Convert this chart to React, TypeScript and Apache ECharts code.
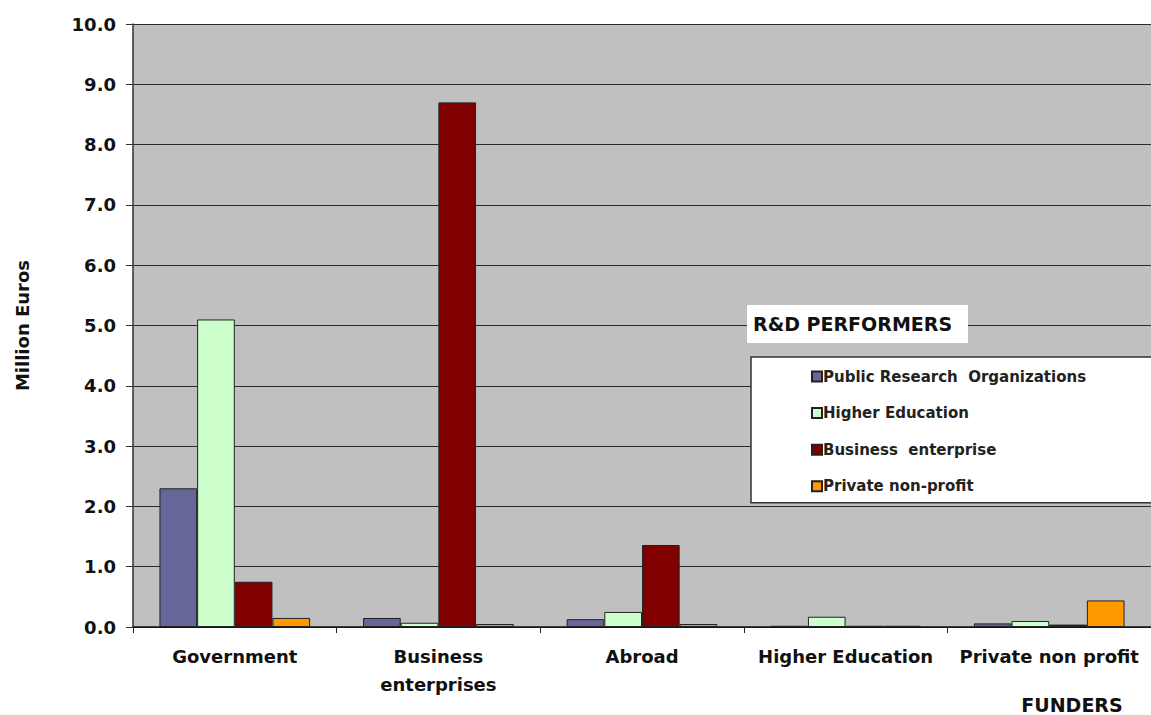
import React, { useEffect, useRef } from "react";
import * as echarts from "echarts";

const categories = ["Government", "Business\nenterprises", "Abroad", "Higher Education", "Private non profit"];
const seriesNames = ["Public Research  Organizations", "Higher Education", "Business  enterprise", "Private non-profit"];
const publicResearch = [2.3, 0.15, 0.13, 0.02, 0.06];
const higherEducation = [5.1, 0.07, 0.25, 0.17, 0.1];
const businessEnterprise = [0.75, 8.7, 1.36, 0.02, 0.04];
const privateNonProfit = [0.15, 0.05, 0.05, 0.02, 0.44];
const colors = ["#666699", "#ccffcc", "#800000", "#ff9900"];

const FONT = "'DejaVu Sans', Arial, sans-serif";

export default function App() {
  const ref = useRef<HTMLDivElement>(null);
  useEffect(() => {
    if (!ref.current) return;
    const chart = echarts.init(ref.current, null, { renderer: "svg" });
    const dataSets = [publicResearch, higherEducation, businessEnterprise, privateNonProfit];
    chart.setOption({
      animation: false,
      backgroundColor: "#ffffff",
      grid: {
        left: 133,
        right: -3,
        top: 24,
        bottom: 88,
        show: true,
        backgroundColor: "#c0c0c0",
        borderWidth: 0,
      },
      legend: {
        orient: "vertical",
        left: 751,
        top: 357,
        padding: [12, 200, 9, 60],
        itemGap: 21.6,
        itemWidth: 10,
        itemHeight: 10,
        icon: "rect",
        backgroundColor: "#ffffff",
        borderColor: "#333333",
        borderWidth: 1.5,
        textStyle: { fontFamily: FONT, fontWeight: "bold", fontSize: 15, color: "#222222", padding: [0, 0, 0, -4] },
        data: seriesNames,
      },
      xAxis: {
        type: "category",
        data: categories,
        axisLine: { lineStyle: { color: "#111111", width: 1.5 } },
        axisTick: { show: true, length: 6, lineStyle: { color: "#222222" } },
        axisLabel: {
          interval: 0,
          hideOverlap: false,
          fontFamily: FONT,
          fontWeight: "bold",
          fontSize: 18,
          color: "#111111",
          margin: 15,
          lineHeight: 28,
        },
      },
      yAxis: {
        type: "value",
        min: 0,
        max: 10,
        interval: 1,
        name: "Million Euros",
        nameLocation: "middle",
        nameGap: 102,
        nameRotate: 90,
        nameTextStyle: { fontFamily: FONT, fontWeight: "bold", fontSize: 18, color: "#111111" },
        axisLine: { show: true, lineStyle: { color: "#333333", width: 1.5 } },
        axisTick: { show: true, length: 7, lineStyle: { color: "#333333" } },
        axisLabel: {
          fontFamily: FONT,
          fontWeight: "bold",
          fontSize: 18,
          color: "#111111",
          margin: 17,
          formatter: (v: number) => v.toFixed(1),
        },
        splitLine: { show: true, lineStyle: { color: "#2a2a2a", width: 1.2 } },
      },
      series: seriesNames.map((name, i) => ({
        name,
        type: "bar",
        data: dataSets[i],
        barGap: "0%",
        barCategoryGap: "26%",
        itemStyle: { color: colors[i], borderColor: "#222222", borderWidth: 1 },
      })),
      graphic: [
        {
          type: "rect",
          shape: { x: 747, y: 305, width: 221, height: 38 },
          style: { fill: "#ffffff" },
          z: 100,
        },
        {
          type: "text",
          x: 753,
          y: 324,
          style: {
            text: "R&D PERFORMERS",
            fontFamily: FONT,
            fontWeight: "bold",
            fontSize: 19,
            fill: "#111111",
            verticalAlign: "middle",
          },
          z: 101,
        },
        {
          type: "text",
          x: 1072,
          y: 705,
          style: {
            text: "FUNDERS",
            fontFamily: FONT,
            fontWeight: "bold",
            fontSize: 19,
            fill: "#111111",
            align: "center",
            verticalAlign: "middle",
          },
        },
      ],
    });
    return () => chart.dispose();
  }, []);
  return (
    <div
      ref={ref}
      style={{ position: "fixed", left: 0, top: 0, width: 1151, height: 715 }}
    />
  );
}
